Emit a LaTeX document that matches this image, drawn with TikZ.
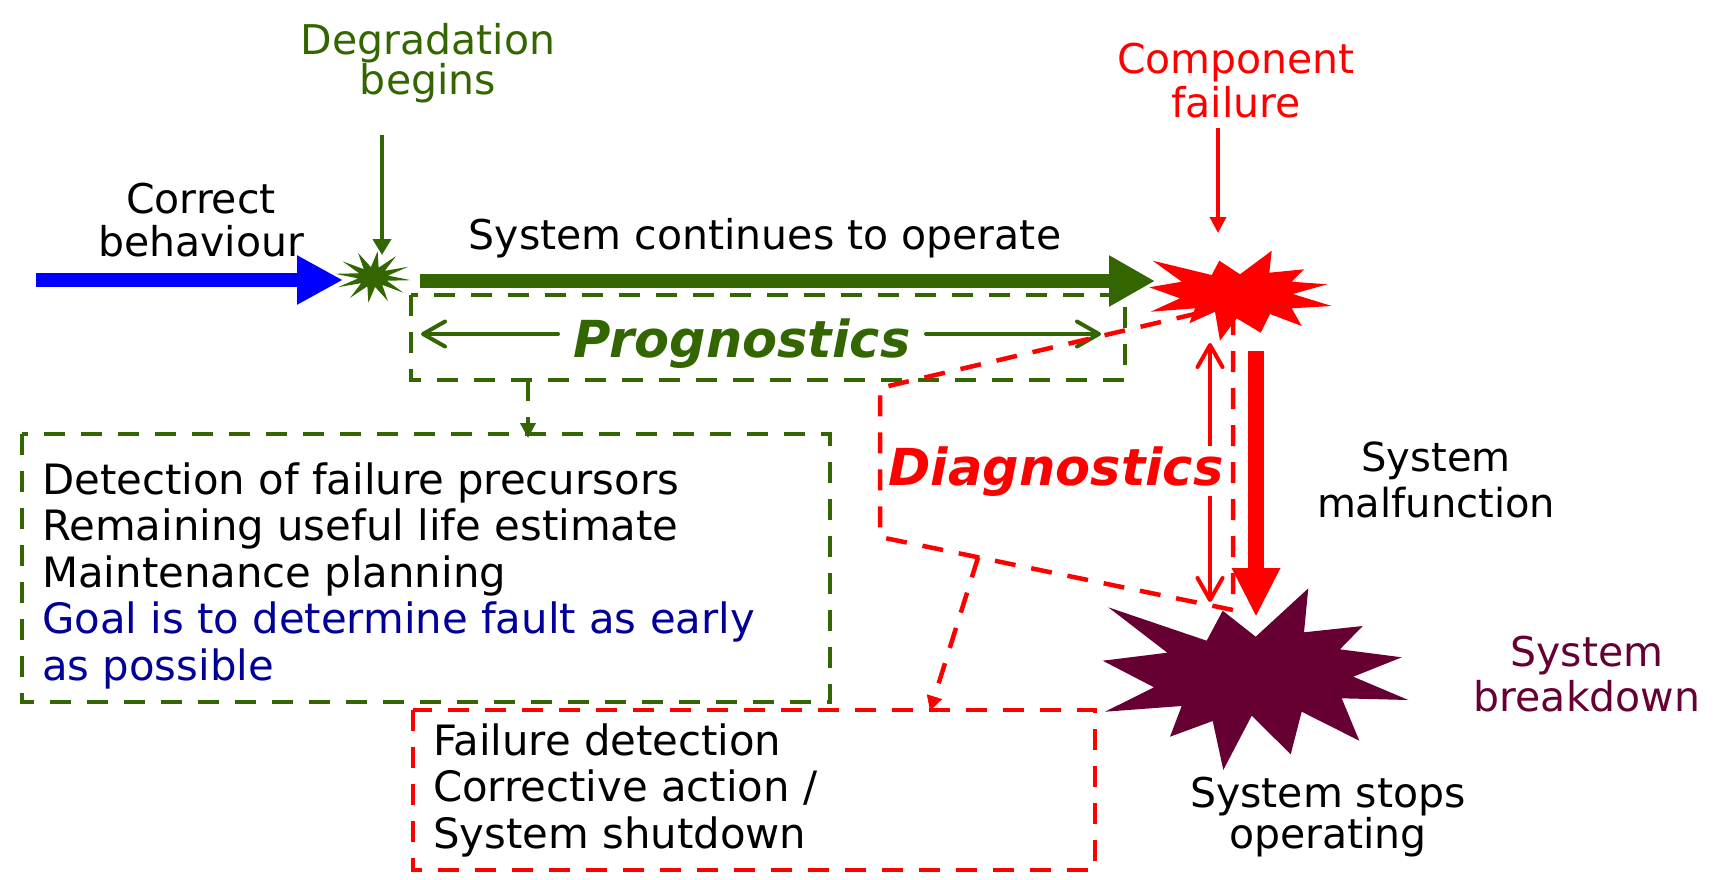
\documentclass[tikz,border=0pt]{standalone}
\usepackage{fontspec}
\setmainfont{DejaVu Sans}[BoldFont={DejaVu Sans Bold},ItalicFont={DejaVu Sans Oblique},BoldItalicFont={DejaVu Sans Bold Oblique}]
\usetikzlibrary{arrows.meta,calc}
\definecolor{leaf}{RGB}{51,102,0}
\definecolor{alarm}{RGB}{255,0,0}
\definecolor{wine}{RGB}{102,0,51}
\definecolor{goalblue}{RGB}{0,0,153}
\definecolor{flowblue}{RGB}{0,0,255}
\begin{document}
\begin{tikzpicture}[x=1pt,y=-1pt,
  % multi-line labels are placed by the baseline of their last line
  txt/.style={font=\fontsize{41}{44}\selectfont, inner sep=0pt, align=center, anchor=base},
  boxtxt/.style={font=\fontsize{41.8}{46.4}\selectfont, inner sep=0pt, align=left, anchor=base west},
  bigword/.style={font=\fontsize{51}{60}\selectfont\bfseries\itshape, inner sep=0pt, anchor=base},
  dashline/.style={line width=4.5pt, dash pattern=on 21pt off 16pt},
  chev/.tip={Straight Barb[length=22pt,width=25pt,round]},
]
\useasboundingbox (0,0) rectangle (1720,879);

% ---- starbursts ----
\fill[leaf] plot[samples at={0,...,23}, variable=\k]
  ({373+ifthenelse(mod(\k,2)==0,38,15)*cos(15*\k+7)},
   {277+ifthenelse(mod(\k,2)==0,26,10)*sin(15*\k+7)}) -- cycle;
\coordinate (gstar) at (373,277);

\fill[alarm] (1152.7,260.7) -- (1211.7,275) -- (1219.3,260.7) -- (1240,274.3)
  -- (1271.7,250.7) -- (1269.3,272.7) -- (1304,269.3) -- (1291.7,281.7)
  -- (1327.3,284.3) -- (1292.7,294) -- (1331.7,306) -- (1291.7,308.3)
  -- (1301.7,326) -- (1270,314) -- (1260.7,332.7) -- (1236.7,318.3)
  -- (1220,340.7) -- (1215,311.7) -- (1189.3,323.3) -- (1195,308.3)
  -- (1150.7,311.7) -- (1180,298.3) -- (1149.3,287.3) -- (1181.7,281.7) -- cycle;

\fill[wine] (1108.3,607.3) -- (1206.7,640.7) -- (1222.7,610.7) -- (1255.7,636.7)
  -- (1308.3,588.3) -- (1304,632.3) -- (1362.7,626) -- (1340,649.3)
  -- (1401.7,657.3) -- (1353.3,676.7) -- (1408.3,700) -- (1341.7,698.3)
  -- (1359.3,740.7) -- (1301.7,711.7) -- (1290.7,754.3) -- (1251.7,715.7)
  -- (1223.3,770) -- (1212.7,721) -- (1170,736.7) -- (1181.7,706)
  -- (1105,711.7) -- (1154,687.3) -- (1102.7,660.7) -- (1167.3,652.7) -- cycle;

% ---- dashed frames ----
\draw[dashline, leaf] (411,295) rectangle (1125,380);
\draw[dashline, leaf] (22,434) rectangle (830,702);
\draw[dashline, alarm] (413,710) rectangle (1095,870);

% ---- anchor points for connectors ----
\coordinate (blueTail) at (36,280);   \coordinate (blueTip) at (343,280);
\coordinate (runTail) at (420,281);   \coordinate (runTip) at (1155,281);
\coordinate (degTail) at (382,135);   \coordinate (degTip) at (382,255);
\coordinate (compTail) at (1218,128); \coordinate (compTip) at (1218,233);
\coordinate (pl1) at (558,334);       \coordinate (pl2) at (421,334);
\coordinate (pr1) at (926,334);       \coordinate (pr2) at (1101,334);
\coordinate (dgTop) at (1210,343);    \coordinate (dgBot) at (1210,602);
\coordinate (malTail) at (1256,351);  \coordinate (malTip) at (1256,617);
\coordinate (pdTail) at (528,380);    \coordinate (pdTip) at (528,438);
\coordinate (dTR) at (1233,305); \coordinate (dTL) at (880,388);
\coordinate (dBL) at (880,537);  \coordinate (dBR) at (1233,610);
\coordinate (ddTail) at ($(dBL)!0.278!(dBR)$);
\coordinate (ddTip) at (930,711);

% ---- main flow ----
\draw[line width=14pt, flowblue, -{Triangle[length=46pt,width=46pt]}] (blueTail) -- (blueTip);
\draw[line width=14pt, leaf, -{Triangle[length=46pt,width=48pt]}] (runTail) -- (runTip);
\draw[line width=4.5pt, leaf, -{Triangle[length=16pt,width=18pt]}] (degTail) -- (degTip);
\draw[line width=3.5pt, alarm, -{Triangle[length=16pt,width=16pt]}] (compTail) -- (compTip);

% ---- prognostics span ----
\draw[line width=4pt, leaf, line cap=round, -chev] (pl1) -- (pl2);
\draw[line width=4pt, leaf, line cap=round, -chev] (pr1) -- (pr2);
\node[bigword, text=leaf] (prog) at (742,357) {Prognostics};

% ---- diagnostics span ----
\draw[line width=4pt, alarm, line cap=round, chev-chev] (dgTop) -- (dgBot);
\node[bigword, text=alarm, fill=white] (diag) at (1056,485) {Diagnostics};
\draw[dashline, alarm] (dTR) -- (dTL) -- (dBL) -- (dBR) -- cycle;

\draw[line width=16pt, alarm, -{Triangle[length=49pt,width=45pt]}] (malTail) -- (malTip);

% ---- links to the task boxes ----
\draw[dashline, leaf, -{Triangle[length=15pt,width=15pt]}] (pdTail) -- (pdTip);
\draw[dashline, alarm, -{Triangle[length=15pt,width=15pt]}] (ddTail) -- (ddTip);

% ---- labels ----
\node[txt, text=leaf, font=\fontsize{41}{40}\selectfont] (degr) at (428,94) {Degradation\\begins};
\node[txt, font=\fontsize{41}{43}\selectfont] (corr) at (201,256) {Correct\\behaviour};
\node[txt] (cont) at (765,249) {System continues to operate};
\node[txt, text=alarm, font=\fontsize{41}{44}\selectfont] (comp) at (1236,117) {Component\\failure};
\node[txt, font=\fontsize{40}{46}\selectfont] (malf) at (1436,517) {System\\malfunction};
\node[txt, text=wine, font=\fontsize{41}{45}\selectfont] (brk) at (1587,711) {System\\breakdown};
\node[txt, font=\fontsize{41}{41}\selectfont] (stop) at (1328,848) {System stops\\operating};

\node[boxtxt] (progtasks) at (42,680) {Detection of failure precursors\\
  Remaining useful life estimate\\
  Maintenance planning\\
  \textcolor{goalblue}{Goal is to determine fault as early}\\
  \textcolor{goalblue}{as possible}};
\node[boxtxt] (diagtasks) at (433,848) {Failure detection\\
  Corrective action /\\
  System shutdown};
\end{tikzpicture}
\end{document}
